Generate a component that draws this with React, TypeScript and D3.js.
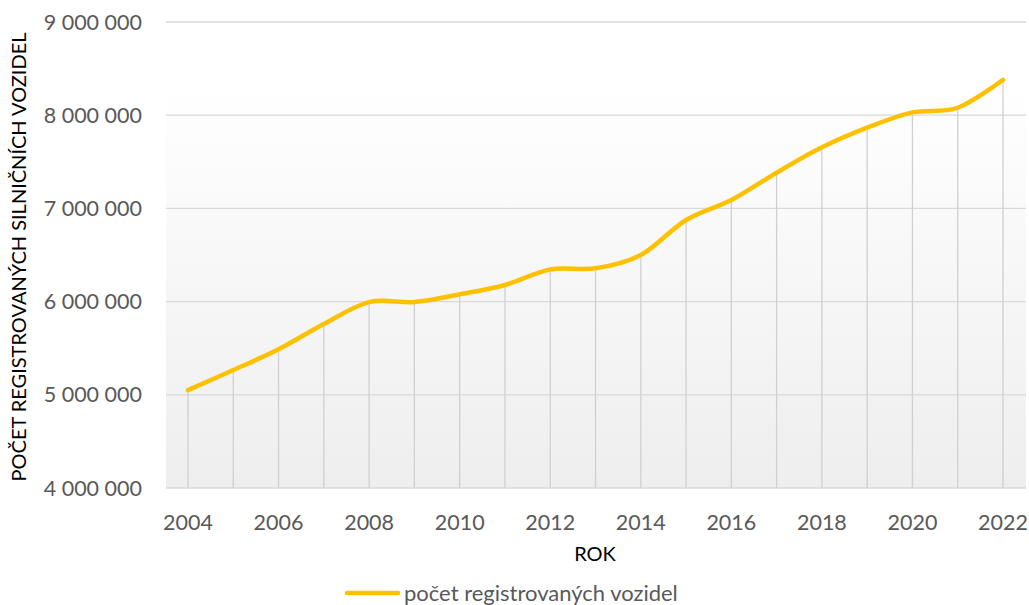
import React, { useEffect, useRef } from 'react';
import * as d3 from 'd3';

const years = [2004, 2005, 2006, 2007, 2008, 2009, 2010, 2011, 2012, 2013, 2014, 2015, 2016, 2017, 2018, 2019, 2020, 2021, 2022];
const vehicles = [5050000, 5266000, 5488000, 5760000, 5995000, 5995000, 6078000, 6178000, 6345000, 6357000, 6500000, 6876000, 7090000, 7383000, 7655000, 7866000, 8030000, 8080000, 8380000];
const yTicks = [4000000, 5000000, 6000000, 7000000, 8000000, 9000000];
const xLabels = [2004, 2006, 2008, 2010, 2012, 2014, 2016, 2018, 2020, 2022];
const seriesName = 'počet registrovaných vozidel';
const yTitle = 'POČET REGISTROVANÝCH SILNIČNÍCH VOZIDEL';
const xTitle = 'ROK';

const App = () => {
    const svgRef = useRef<SVGSVGElement>(null);

    useEffect(() => {
        const width = 1029;
        const height = 605;
        const font = 'Lato, "Open Sans", sans-serif';

        const svg = d3.select(svgRef.current)
            .attr('width', width)
            .attr('height', height)
            .style('display', 'block')
            .style('position', 'absolute')
            .style('left', 0)
            .style('top', 0);
        svg.selectAll('*').remove();

        const xScale = d3.scaleLinear().domain([2004, 2022]).range([188, 1003]);
        const yScale = d3.scaleLinear().domain([4000000, 9000000]).range([488, 22]);

        // plot background gradient
        const defs = svg.append('defs');
        const grad = defs.append('linearGradient')
            .attr('id', 'bg')
            .attr('x1', 0).attr('y1', 0).attr('x2', 0).attr('y2', 1);
        grad.append('stop').attr('offset', '0%').attr('stop-color', '#ffffff');
        grad.append('stop').attr('offset', '100%').attr('stop-color', '#eeeeee');

        svg.append('rect')
            .attr('x', 166)
            .attr('y', 83)
            .attr('width', 1026 - 166)
            .attr('height', 488 - 83)
            .attr('fill', 'url(#bg)');

        // horizontal gridlines
        svg.append('g')
            .selectAll('line')
            .data(yTicks)
            .enter()
            .append('line')
            .attr('x1', 166)
            .attr('x2', 1026)
            .attr('y1', d => yScale(d))
            .attr('y2', d => yScale(d))
            .attr('stroke', '#d9d9d9')
            .attr('stroke-width', 1.3);

        // drop lines
        svg.append('g')
            .selectAll('line')
            .data(years)
            .enter()
            .append('line')
            .attr('x1', d => xScale(d))
            .attr('x2', d => xScale(d))
            .attr('y1', (d, i) => yScale(vehicles[i]))
            .attr('y2', yScale(4000000))
            .attr('stroke', '#d0d0d0')
            .attr('stroke-width', 1.3);

        // series line
        const line = d3.line<number>()
            .x((d, i) => xScale(years[i]))
            .y(d => yScale(d))
            .curve(d3.curveCardinal.tension(0));

        svg.append('path')
            .datum(vehicles)
            .attr('d', line)
            .attr('fill', 'none')
            .attr('stroke', '#ffc000')
            .attr('stroke-width', 4.5)
            .attr('stroke-linecap', 'round');

        // Y tick labels
        svg.append('g')
            .selectAll('text')
            .data(yTicks)
            .enter()
            .append('text')
            .attr('x', 142)
            .attr('y', d => yScale(d) + 7.5)
            .attr('text-anchor', 'end')
            .style('font-family', font)
            .style('font-size', '21.5px')
            .attr('fill', '#595959')
            .text(d => d3.format(',')(d).replace(/,/g, ' '));

        // X tick labels
        svg.append('g')
            .selectAll('text')
            .data(xLabels)
            .enter()
            .append('text')
            .attr('x', d => xScale(d))
            .attr('y', 530)
            .attr('text-anchor', 'middle')
            .style('font-family', font)
            .style('font-size', '21.5px')
            .attr('fill', '#595959')
            .text(d => d);

        // X-axis label
        svg.append('text')
            .attr('x', 595)
            .attr('y', 561)
            .attr('text-anchor', 'middle')
            .style('font-family', font)
            .style('font-size', '20px')
            .attr('fill', '#000000')
            .text(xTitle);

        // Y-axis label
        svg.append('text')
            .attr('transform', 'rotate(-90)')
            .attr('x', -257)
            .attr('y', 26)
            .attr('text-anchor', 'middle')
            .style('font-family', font)
            .style('font-size', '20px')
            .attr('fill', '#000000')
            .text(yTitle);

        // legend
        svg.append('line')
            .attr('x1', 347)
            .attr('x2', 398)
            .attr('y1', 593)
            .attr('y2', 593)
            .attr('stroke', '#ffc000')
            .attr('stroke-width', 4.5)
            .attr('stroke-linecap', 'round');

        svg.append('text')
            .attr('x', 404)
            .attr('y', 601)
            .style('font-family', font)
            .style('font-size', '22px')
            .attr('fill', '#595959')
            .text(seriesName);
    }, []);

    return (
        <svg ref={svgRef}></svg>
    );
};

export default App;
